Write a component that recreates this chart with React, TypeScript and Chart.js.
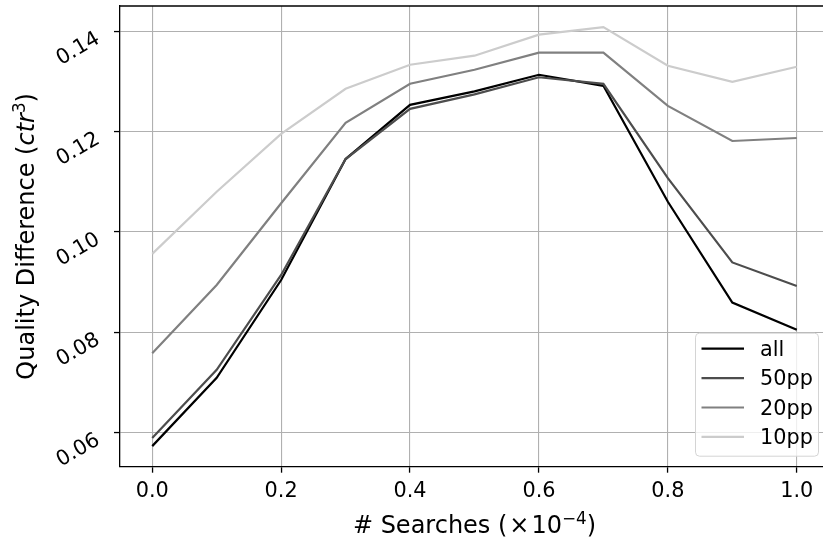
import { useEffect, useRef } from "react";
import { Chart, registerables } from "chart.js";

Chart.register(...registerables);

const xValues = [0.0, 0.1, 0.2, 0.3, 0.4, 0.5, 0.6, 0.7, 0.8, 0.9, 1.0];
const allValues = [0.0573, 0.0709, 0.0904, 0.1145, 0.1253, 0.128, 0.1313, 0.1291, 0.106, 0.0859, 0.0805];
const pp50Values = [0.0589, 0.0725, 0.0914, 0.1145, 0.1245, 0.1274, 0.1308, 0.1295, 0.1107, 0.0939, 0.0892];
const pp20Values = [0.0758, 0.0894, 0.1057, 0.1217, 0.1295, 0.1323, 0.1357, 0.1357, 0.1251, 0.1181, 0.1187];
const pp10Values = [0.0956, 0.108, 0.1195, 0.1285, 0.1333, 0.1351, 0.1393, 0.1408, 0.1331, 0.1299, 0.1329];

const seriesLabels = ["all", "50pp", "20pp", "10pp"];
const seriesColors = ["#000000", "#4d4d4d", "#808080", "#cccccc"];
const seriesValues = [allValues, pp50Values, pp20Values, pp10Values];

const xTickValues = [0.0, 0.2, 0.4, 0.6, 0.8, 1.0];
const xTickLabels = ["0.0", "0.2", "0.4", "0.6", "0.8", "1.0"];
const yTickValues = [0.06, 0.08, 0.1, 0.12, 0.14];
const yTickLabels = ["0.06", "0.08", "0.10", "0.12", "0.14"];

const FONT = "'DejaVu Sans', 'Liberation Sans', sans-serif";

const decorPlugin = {
  id: "decor",
  afterDraw(chart: any) {
    const ctx: CanvasRenderingContext2D = chart.ctx;
    const area = chart.chartArea;
    const xs = chart.scales.x;
    const ys = chart.scales.y;
    ctx.save();
    // top spine
    ctx.strokeStyle = "#000";
    ctx.lineWidth = 1.3;
    ctx.beginPath();
    ctx.moveTo(area.left - 0.65, area.top);
    ctx.lineTo(area.right, area.top);
    ctx.stroke();

    ctx.fillStyle = "#000";
    // y tick labels, rotated
    ctx.font = `20.8px ${FONT}`;
    yTickValues.forEach((v, i) => {
      const py = ys.getPixelForValue(v);
      ctx.save();
      ctx.translate(area.left - 19, py + 11);
      ctx.rotate(-Math.PI / 6);
      ctx.textAlign = "right";
      ctx.textBaseline = "alphabetic";
      ctx.fillText(yTickLabels[i], 0, 0);
      ctx.restore();
    });
    // x tick labels
    ctx.textAlign = "center";
    ctx.textBaseline = "alphabetic";
    xTickValues.forEach((v, i) => {
      const px = xs.getPixelForValue(v);
      ctx.fillText(xTickLabels[i], px, area.bottom + 30.5);
    });

    // x title: # Searches (×10^-4)
    const mainF = `24px ${FONT}`;
    const supF = `16.8px ${FONT}`;
    const parts = [
      { t: "# Searches (", f: mainF, dy: 0 },
      { t: "×", f: mainF, dy: 0, padL: 2, padR: 2 },
      { t: "10", f: mainF, dy: 0 },
      { t: "−4", f: supF, dy: -9 },
      { t: ")", f: mainF, dy: 0 },
    ];
    let total = 0;
    parts.forEach((p: any) => {
      ctx.font = p.f;
      total += ctx.measureText(p.t).width + (p.padL || 0) + (p.padR || 0);
    });
    let cx = (area.left + area.right) / 2 - total / 2;
    const by = area.bottom + 66;
    ctx.textAlign = "left";
    parts.forEach((p: any) => {
      ctx.font = p.f;
      cx += p.padL || 0;
      ctx.fillText(p.t, cx, by + p.dy);
      cx += ctx.measureText(p.t).width + (p.padR || 0);
    });

    // y title: Quality Difference (ctr^3)
    const yparts = [
      { t: "Quality Difference (", f: mainF, dy: 0 },
      { t: "ctr", f: `oblique 24px ${FONT}`, dy: 0 },
      { t: "3", f: supF, dy: -9 },
      { t: ")", f: mainF, dy: 0 },
    ];
    let ytotal = 0;
    yparts.forEach((p) => {
      ctx.font = p.f;
      ytotal += ctx.measureText(p.t).width;
    });
    ctx.save();
    ctx.translate(34, (area.top + area.bottom) / 2);
    ctx.rotate(-Math.PI / 2);
    let ty = -ytotal / 2;
    yparts.forEach((p) => {
      ctx.font = p.f;
      ctx.fillText(p.t, ty, p.dy);
      ty += ctx.measureText(p.t).width;
    });
    ctx.restore();

    // legend (lower right, inside axes)
    const bx1 = area.right - 11;
    const by2 = area.bottom - 11;
    const bw = 123;
    const bh = 123;
    const bx0 = bx1 - bw;
    const by0 = by2 - bh;
    ctx.beginPath();
    if ((ctx as any).roundRect) {
      (ctx as any).roundRect(bx0 + 0.5, by0 + 0.5, bw, bh, 4);
    } else {
      ctx.rect(bx0 + 0.5, by0 + 0.5, bw, bh);
    }
    ctx.fillStyle = "rgba(255,255,255,0.8)";
    ctx.fill();
    ctx.strokeStyle = "#d4d4d4";
    ctx.lineWidth = 1;
    ctx.stroke();
    ctx.font = `20.8px ${FONT}`;
    chart.data.datasets.forEach((ds: any, i: number) => {
      const ry = by0 + 16 + i * 29.4;
      ctx.strokeStyle = ds.borderColor;
      ctx.lineWidth = 2.2;
      ctx.beginPath();
      ctx.moveTo(bx0 + 6.5, ry);
      ctx.lineTo(bx0 + 49, ry);
      ctx.stroke();
      ctx.fillStyle = "#000";
      ctx.textAlign = "left";
      ctx.fillText(ds.label, bx0 + 65, ry + 7);
    });
    ctx.restore();
  },
};

export default function App() {
  const ref = useRef<HTMLCanvasElement | null>(null);
  useEffect(() => {
    if (!ref.current) return;
    const datasets = seriesLabels.map((label, i) => ({
      label,
      data: xValues.map((x, j) => ({ x, y: seriesValues[i][j] })),
      borderColor: seriesColors[i],
      backgroundColor: seriesColors[i],
      borderWidth: 2.2,
      pointRadius: 0,
      tension: 0,
      fill: false,
      order: seriesLabels.length - i,
    }));
    const chart = new Chart(ref.current, {
      type: "line",
      data: { datasets },
      plugins: [decorPlugin],
      options: {
        animation: false,
        responsive: false,
        devicePixelRatio: 1,
        layout: { padding: { top: 6, right: 1, left: 0, bottom: 0 } },
        plugins: { legend: { display: false }, tooltip: { enabled: false } },
        scales: {
          x: {
            type: "linear",
            position: "bottom",
            min: -0.05,
            max: 1.05,
            afterBuildTicks: (s: any) => {
              s.ticks = xTickValues.map((v) => ({ value: v }));
            },
            afterFit: (s: any) => {
              s.height = 73.3;
            },
            ticks: { display: false },
            grid: {
              color: "#b0b0b0",
              lineWidth: 1.1,
              drawTicks: true,
              tickLength: 6,
              tickColor: "#000",
              tickWidth: 1.3,
            },
            border: { display: true, color: "#000", width: 1.3 },
          },
          y: {
            type: "linear",
            position: "left",
            min: 0.0532,
            max: 0.145,
            afterBuildTicks: (s: any) => {
              s.ticks = yTickValues.map((v) => ({ value: v }));
            },
            afterFit: (s: any) => {
              s.width = 120;
            },
            ticks: { display: false },
            grid: {
              color: "#b0b0b0",
              lineWidth: 1.1,
              drawTicks: true,
              tickLength: 6,
              tickColor: "#000",
              tickWidth: 1.3,
            },
            border: { display: true, color: "#000", width: 1.3 },
          },
        },
      } as any,
    });
    return () => chart.destroy();
  }, []);
  return (
    <div style={{ position: "fixed", left: 0, top: 0, width: 823, height: 540, overflow: "hidden", background: "#fff" }}>
      <canvas ref={ref} width={830} height={540} style={{ display: "block", width: 830, height: 540 }} />
    </div>
  );
}
